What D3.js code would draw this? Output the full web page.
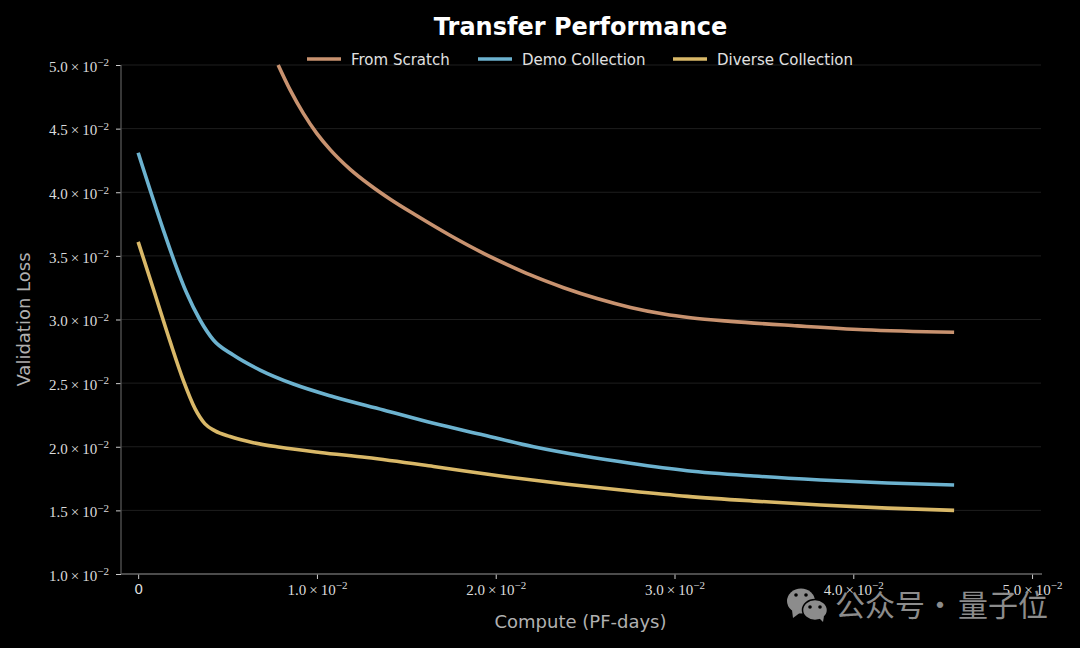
<!DOCTYPE html>
<html>
<head>
<meta charset="utf-8">
<title>Transfer Performance</title>
<script src="https://cdn.jsdelivr.net/npm/d3@7"></script>
<style>
  html, body { margin: 0; padding: 0; background: #000; }
  svg { display: block; }
</style>
</head>
<body>
<div id="chart"></div>
<script>
// values
var seriesNames = ['From Scratch', 'Demo Collection', 'Diverse Collection'];
var seriesColors = ['#c8926f', '#6cb2cf', '#d9b868'];

var scratchX = [0.00783, 0.0085, 0.00924, 0.00999, 0.01074, 0.01186, 0.01298, 0.0141, 0.01559, 0.01746, 0.01932, 0.02082, 0.02194, 0.0238, 0.02567, 0.02754, 0.0294, 0.0309, 0.03314, 0.03687, 0.04058, 0.04564];
var scratchY = [0.05, 0.04804, 0.0462, 0.04463, 0.04335, 0.0418, 0.04055, 0.03945, 0.03815, 0.0366, 0.0352, 0.0342, 0.0335, 0.0325, 0.03165, 0.03095, 0.03043, 0.03014, 0.02985, 0.0295, 0.0292, 0.029];

var demoX = [0, 0.00141, 0.00206, 0.00272, 0.00346, 0.00421, 0.00532, 0.00682, 0.00868, 0.01092, 0.01372, 0.01652, 0.01932, 0.02212, 0.02492, 0.02754, 0.03071, 0.03444, 0.03817, 0.04191, 0.04564];
var demoY = [0.0431, 0.03703, 0.03442, 0.03206, 0.02996, 0.02839, 0.02721, 0.02603, 0.02493, 0.02393, 0.02289, 0.02184, 0.02092, 0.02, 0.01927, 0.0187, 0.01812, 0.0177, 0.01739, 0.01715, 0.017];

var diverseX = [0, 0.00085, 0.00178, 0.00253, 0.00318, 0.00374, 0.0043, 0.00514, 0.00644, 0.00794, 0.01018, 0.01279, 0.01652, 0.02026, 0.02399, 0.02754, 0.03071, 0.03444, 0.03817, 0.04191, 0.04564];
var diverseY = [0.0361, 0.0324, 0.0283, 0.0252, 0.023, 0.0218, 0.02125, 0.0208, 0.02032, 0.01996, 0.01955, 0.01915, 0.01845, 0.0177, 0.01705, 0.01652, 0.0161, 0.01573, 0.01542, 0.01518, 0.015];

var xTicks = [0, 0.01, 0.02, 0.03, 0.04, 0.05];
var xTickLabels = ['0', '1.0', '2.0', '3.0', '4.0', '5.0'];
var yTicks = [0.01, 0.015, 0.02, 0.025, 0.03, 0.035, 0.04, 0.045, 0.05];
var yTickLabels = ['1.0', '1.5', '2.0', '2.5', '3.0', '3.5', '4.0', '4.5', '5.0'];

var width = 1080,
  height = 648,
  padding = { top: 65, right: 39, bottom: 74, left: 121 };

var sansFont = '"DejaVu Sans", sans-serif';
var serifFont = '"Liberation Serif", serif';
var cjkFont = '"Noto Sans CJK SC", sans-serif';

var svg = d3.select('#chart')
  .append('svg')
  .attr('width', width)
  .attr('height', height)
  .style('background', '#000');

var xScale = d3.scaleLinear()
  .domain([-0.00096, 0.0505])
  .range([padding.left, width - padding.right]);
var yScale = d3.scaleLinear()
  .domain([0.01, 0.05])
  .range([height - padding.bottom, padding.top]);

// grid
svg.append('g')
  .selectAll('line')
  .data(yTicks.slice(1))
  .enter().append('line')
  .attr('x1', padding.left)
  .attr('x2', width - padding.right)
  .attr('y1', function (d) { return yScale(d); })
  .attr('y2', function (d) { return yScale(d); })
  .attr('stroke', '#1e1e1e')
  .attr('stroke-width', 1);

// mantissa x 10^-2 label, the zero on the x axis stays plain
function powerLabel(sel, labels) {
  sel.each(function (d, i) {
    var t = d3.select(this);
    t.text(null);
    if (labels[i] === '0') {
      t.attr('font-family', sansFont).attr('font-size', 14).text('0');
      return;
    }
    t.append('tspan').text(labels[i] + '\u2009\u00d7\u200910');
    t.append('tspan')
      .attr('dy', -5.5)
      .attr('font-size', 11)
      .text('\u22122');
  });
}

// x axis
var xAxis = d3.axisBottom(xScale)
  .tickValues(xTicks)
  .tickSize(5)
  .tickPadding(5);
var gx = svg.append('g')
  .attr('transform', 'translate(0,' + (height - padding.bottom) + ')')
  .call(xAxis);
gx.selectAll('text')
  .attr('font-family', serifFont)
  .attr('font-size', 15)
  .attr('fill', '#dcdcdc')
  .call(powerLabel, xTickLabels);

// y axis
var yAxis = d3.axisLeft(yScale)
  .tickValues(yTicks)
  .tickSize(5)
  .tickPadding(7);
var gy = svg.append('g')
  .attr('transform', 'translate(' + padding.left + ',0)')
  .call(yAxis);
gy.selectAll('text')
  .attr('font-family', serifFont)
  .attr('font-size', 15)
  .attr('fill', '#dcdcdc')
  .attr('dy', '0.42em')
  .call(powerLabel, yTickLabels);

svg.selectAll('.domain').remove();
gx.append('line')
  .attr('x1', padding.left)
  .attr('x2', width - padding.right + 1)
  .attr('stroke', '#666')
  .attr('stroke-width', 1.3);
gy.append('line')
  .attr('y1', padding.top)
  .attr('y2', height - padding.bottom)
  .attr('stroke', '#555')
  .attr('stroke-width', 1.3);
svg.selectAll('.tick line')
  .attr('stroke', '#ccc')
  .attr('stroke-width', 1);

// curves
var line = d3.line()
  .x(function (d) { return xScale(d[0]); })
  .y(function (d) { return yScale(d[1]); })
  .curve(d3.curveMonotoneX);

var curves = [d3.zip(scratchX, scratchY), d3.zip(demoX, demoY), d3.zip(diverseX, diverseY)];
svg.append('g')
  .selectAll('path')
  .data(curves)
  .enter().append('path')
  .attr('d', line)
  .attr('fill', 'none')
  .attr('stroke', function (d, i) { return seriesColors[i]; })
  .attr('stroke-width', 3.6)
  .attr('stroke-linejoin', 'round');

// title and axis labels
svg.append('text')
  .attr('x', 580.5)
  .attr('y', 34.5)
  .attr('text-anchor', 'middle')
  .attr('font-family', sansFont)
  .attr('font-weight', 'bold')
  .attr('font-size', 24)
  .attr('fill', '#fff')
  .text('Transfer Performance');

svg.append('text')
  .attr('x', 580.5)
  .attr('y', 628)
  .attr('text-anchor', 'middle')
  .attr('font-family', sansFont)
  .attr('font-size', 18)
  .attr('fill', '#b0b0b0')
  .text('Compute (PF-days)');

svg.append('text')
  .attr('transform', 'translate(30,319.5) rotate(-90)')
  .attr('text-anchor', 'middle')
  .attr('font-family', sansFont)
  .attr('font-size', 18)
  .attr('fill', '#b0b0b0')
  .text('Validation Loss');

// legend
var legendX = [307, 478, 673];
var legend = svg.append('g')
  .selectAll('g')
  .data(seriesNames)
  .enter().append('g')
  .attr('transform', function (d, i) { return 'translate(' + legendX[i] + ',59)'; });
legend.append('line')
  .attr('x2', 34)
  .attr('stroke', function (d, i) { return seriesColors[i]; })
  .attr('stroke-width', 3.6);
legend.append('text')
  .attr('x', 44)
  .attr('y', 5.5)
  .attr('font-family', sansFont)
  .attr('font-size', 15)
  .attr('fill', '#e0e0e0')
  .text(function (d) { return d; });

// watermark
var mark = svg.append('g').attr('fill', '#8c8c8c');
mark.append('ellipse').attr('cx', 801).attr('cy', 601).attr('rx', 14).attr('ry', 12.5);
mark.append('path').attr('d', 'M792 610 L793 618 L801 612 Z');
mark.append('ellipse').attr('cx', 815).attr('cy', 610).attr('rx', 12.5).attr('ry', 10.5).attr('stroke', '#000').attr('stroke-width', 1.5);
mark.append('path').attr('d', 'M819 618 L823 622 L824 616 Z');
var eyes = [[796, 595], [806, 595], [810, 607], [820, 607]];
mark.selectAll('circle')
  .data(eyes)
  .enter().append('circle')
  .attr('cx', function (d) { return d[0]; })
  .attr('cy', function (d) { return d[1]; })
  .attr('r', 1.8)
  .attr('fill', '#000');
svg.append('text')
  .attr('y', 616)
  .attr('font-family', cjkFont)
  .attr('font-size', 30)
  .attr('fill', '#8c8c8c')
  .selectAll('tspan')
  .data([['公众号', 835], ['·', 925], ['量子位', 958]])
  .enter().append('tspan')
  .attr('x', function (d) { return d[1]; })
  .text(function (d) { return d[0]; });
</script>
</body>
</html>
